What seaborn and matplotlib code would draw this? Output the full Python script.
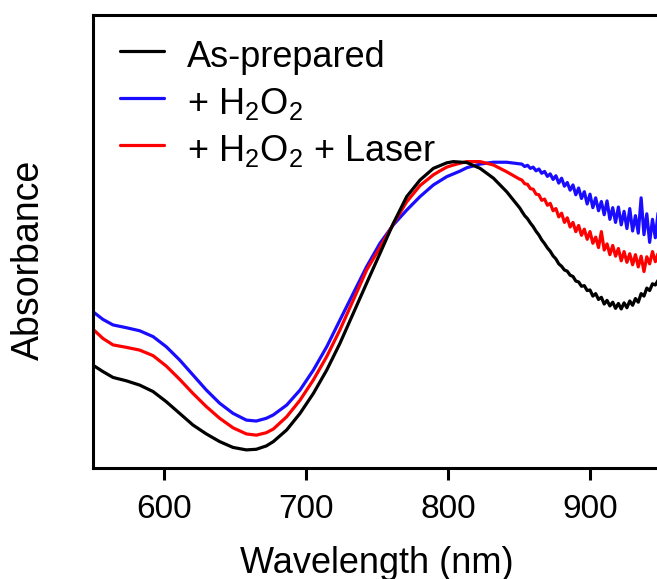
import pandas as pd
import seaborn as sns
import matplotlib.pyplot as plt

# wavelength (nm) / absorbance (a.u., normalised to peak)
wl_asprep = [550, 557, 564.1, 573.5, 582.9, 592.3, 601.6, 611, 620.4, 629.8, 639.2, 648.6,
             658, 665, 672.1, 677, 686.4, 695.8, 705.2, 714.6, 723.9, 733.3, 742.7, 752.1,
             761.5, 770.9, 780.3, 789.7, 799.1, 803.8, 813.2, 822.6, 832, 841.3, 850.7,
             852, 854, 856, 858, 860, 862, 864, 866, 868, 870, 872, 874, 876, 878, 880,
             882, 884, 886, 888, 890, 892, 894, 896, 898, 900, 902, 904, 906, 908, 910,
             912, 914, 916, 918, 920, 922, 924, 926, 928, 930, 932, 934, 936, 938, 940,
             942, 944, 946, 948, 950]
abs_asprep = [0.335, 0.314, 0.295, 0.284, 0.270, 0.249, 0.216, 0.178, 0.140, 0.111, 0.086,
              0.067, 0.059, 0.061, 0.072, 0.086, 0.124, 0.178, 0.243, 0.319, 0.406, 0.504,
              0.602, 0.699, 0.797, 0.884, 0.938, 0.976, 0.994, 0.998, 0.995, 0.976, 0.944,
              0.900, 0.846,
              0.836, 0.822, 0.812, 0.798, 0.786, 0.771, 0.759, 0.743, 0.731, 0.717, 0.706,
              0.691, 0.681, 0.665, 0.657, 0.645, 0.641, 0.628, 0.624, 0.609, 0.606, 0.592,
              0.594, 0.578, 0.580, 0.560, 0.568, 0.549, 0.556, 0.534, 0.546, 0.528, 0.540,
              0.520, 0.536, 0.518, 0.538, 0.522, 0.544, 0.530, 0.552, 0.540, 0.568, 0.560,
              0.586, 0.578, 0.600, 0.596, 0.612, 0.604]

wl_h2o2 = [550, 557, 564.1, 573.5, 582.9, 592.3, 601.6, 611, 620.4, 629.8, 639.2, 648.6,
           658, 665, 672.1, 677, 686.4, 695.8, 705.2, 714.6, 723.9, 733.3, 742.7, 752.1,
           761.5, 770.9, 780.3, 789.7, 799.1, 808.4, 813.2, 822.6, 832, 841.3, 850,
           852, 854, 856, 858, 860, 862, 864, 866, 868, 870, 872, 874, 876, 878, 880,
           882, 884, 886, 888, 890, 892, 894, 896, 898, 900, 902, 904, 906, 908, 910,
           912, 914, 916, 918, 920, 922, 924, 926, 928, 930, 932, 934, 936, 938, 940,
           942, 944, 946, 948, 950]
abs_h2o2 = [0.509, 0.484, 0.466, 0.457, 0.447, 0.428, 0.395, 0.352, 0.303, 0.254, 0.211,
            0.178, 0.156, 0.153, 0.162, 0.173, 0.205, 0.254, 0.319, 0.395, 0.482, 0.569,
            0.656, 0.732, 0.792, 0.840, 0.884, 0.922, 0.949, 0.967, 0.978, 0.990, 0.996,
            0.996, 0.991,
            0.990, 0.982, 0.986, 0.976, 0.980, 0.968, 0.974, 0.960, 0.966, 0.950, 0.958,
            0.940, 0.952, 0.928, 0.944, 0.918, 0.930, 0.905, 0.922, 0.890, 0.912, 0.878,
            0.900, 0.860, 0.892, 0.848, 0.880, 0.838, 0.868, 0.825, 0.870, 0.810, 0.848,
            0.800, 0.850, 0.792, 0.836, 0.780, 0.845, 0.772, 0.822, 0.765, 0.880, 0.760,
            0.828, 0.735, 0.810, 0.750, 0.835, 0.770]

wl_laser = [550, 557, 564.1, 573.5, 582.9, 592.3, 601.6, 611, 620.4, 629.8, 639.2, 648.6,
            658, 665, 672.1, 677, 686.4, 695.8, 705.2, 714.6, 723.9, 733.3, 742.7, 752.1,
            761.5, 770.9, 780.3, 789.7, 794.4, 799.1, 803.8, 813.2, 822.6, 832, 841.3, 850,
            852, 854, 856, 858, 860, 862, 864, 866, 868, 870, 872, 874, 876, 878, 880,
            882, 884, 886, 888, 890, 892, 894, 896, 898, 900, 902, 904, 906, 908, 910,
            912, 914, 916, 918, 920, 922, 924, 926, 928, 930, 932, 934, 936, 938, 940,
            942, 944, 946, 948, 950]
abs_laser = [0.452, 0.422, 0.401, 0.393, 0.384, 0.366, 0.332, 0.289, 0.243, 0.200, 0.162,
             0.131, 0.111, 0.107, 0.115, 0.127, 0.167, 0.221, 0.287, 0.363, 0.450, 0.547,
             0.645, 0.718, 0.795, 0.867, 0.920, 0.955, 0.968, 0.980, 0.987, 0.998, 0.998,
             0.987, 0.965, 0.942,
             0.938, 0.926, 0.924, 0.910, 0.908, 0.892, 0.890, 0.872, 0.876, 0.856, 0.862,
             0.838, 0.845, 0.818, 0.830, 0.800, 0.815, 0.785, 0.800, 0.770, 0.790, 0.758,
             0.778, 0.745, 0.770, 0.732, 0.752, 0.718, 0.770, 0.710, 0.730, 0.695, 0.725,
             0.690, 0.715, 0.675, 0.705, 0.670, 0.698, 0.662, 0.695, 0.655, 0.690, 0.640,
             0.688, 0.665, 0.705, 0.672, 0.700, 0.680]

labels = ['As-prepared', '+ H$_2$O$_2$', '+ H$_2$O$_2$ + Laser']
colors = ['black', '#1a0dff', '#ff0000']

sns.set_style('ticks')
plt.rcParams['font.family'] = ['Liberation Sans', 'DejaVu Sans']
plt.rcParams['mathtext.fontset'] = 'custom'
plt.rcParams['mathtext.rm'] = 'Liberation Sans'
plt.rcParams['mathtext.it'] = 'Liberation Sans'
plt.rcParams['text.color'] = 'black'
plt.rcParams['axes.labelcolor'] = 'black'
plt.rcParams['xtick.color'] = 'black'

fig = plt.figure(figsize=(6.57, 5.79), dpi=100)
ax = fig.add_axes([93 / 657, 111 / 579, 568 / 657, 453 / 579])

series = [(wl_asprep, abs_asprep), (wl_h2o2, abs_h2o2), (wl_laser, abs_laser)]
handles = [None] * 3
# blue, red, then black on top
for i in [1, 2, 0]:
    df = pd.DataFrame({'wl': series[i][0], 'A': series[i][1]})
    sns.lineplot(data=df, x='wl', y='A', color=colors[i], lw=2.3, estimator=None,
                 sort=False, ax=ax)
    handles[i] = ax.lines[-1]

ax.set_xlim(550, 950)
ax.set_ylim(0, 1.4756)
ax.set_xticks([600, 700, 800, 900])
ax.set_yticks([])
ax.tick_params(axis='x', direction='out', length=8.5, width=2.2, labelsize=24, pad=10)
for s in ax.spines.values():
    s.set_linewidth(2.2)
    s.set_color('black')

ax.set_xlabel('Wavelength (nm)', fontsize=26, labelpad=15)
ax.set_ylabel('Absorbance', fontsize=27)
ax.yaxis.set_label_coords(-0.082, 0.459)

ax.legend(handles, labels, loc='upper left', bbox_to_anchor=(0.047, 0.955), frameon=False,
          fontsize=26, handlelength=1.22, handletextpad=0.64, labelspacing=0.2,
          handleheight=1.3, borderpad=0, borderaxespad=0)

fig.savefig('out.png', dpi=100)
